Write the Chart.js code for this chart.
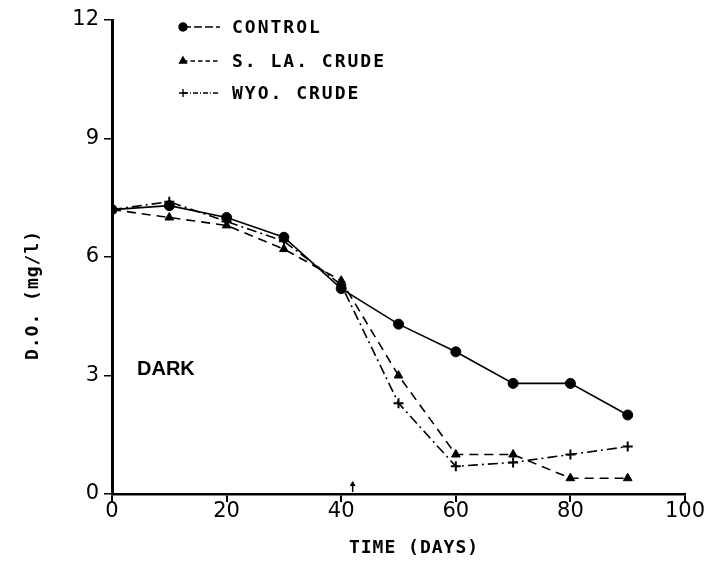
<!DOCTYPE html>
<html lang="en">
<head>
    <meta charset="UTF-8">
    <title>D.O. vs Time (Dark)</title>
    <script src="https://cdn.jsdelivr.net/npm/chart.js"></script>
    <style>
        html, body { margin: 0; padding: 0; background: #fff; }
        #wrap { width: 713px; height: 565px; }
    </style>
</head>
<body>
    <div id="wrap"><canvas id="doChart" width="713" height="565"></canvas></div>
    <script>
        // values
        const days = [0, 10, 20, 30, 40, 50, 60, 70, 80, 90];
        const control = [7.2, 7.3, 7.0, 6.5, 5.2, 4.3, 3.6, 2.8, 2.8, 2.0];
        const sLaCrude = [7.2, 7.0, 6.8, 6.2, 5.4, 3.0, 1.0, 1.0, 0.4, 0.4];
        const wyoCrude = [7.2, 7.4, 6.9, 6.4, 5.3, 2.3, 0.7, 0.8, 1.0, 1.2];
        const seriesNames = ['CONTROL', 'S. LA. CRUDE', 'WYO. CRUDE'];
        const xTicks = [0, 20, 40, 60, 80, 100];
        const yTicks = [0, 3, 6, 9, 12];
        const arrowDay = 42;
        const xTitle = 'TIME (DAYS)';
        const yTitle = 'D.O. (mg/l)';
        const noteText = 'DARK';

        const pts = vals => days.map((d, i) => ({ x: d, y: vals[i] }));

        const styles = [
            { dash: [], point: 'circle', radius: 5 },
            { dash: [9, 6], point: 'triangle', radius: 5 },
            { dash: [10, 4, 2, 4], point: 'cross', radius: 5 }
        ];

        const datasets = [control, sLaCrude, wyoCrude].map((vals, i) => ({
            label: seriesNames[i],
            data: pts(vals),
            borderColor: '#000',
            backgroundColor: '#000',
            borderWidth: 1.6,
            borderDash: styles[i].dash,
            pointStyle: styles[i].point,
            pointRadius: styles[i].radius,
            pointBorderWidth: i === 2 ? 2 : 1,
            tension: 0
        }));

        const extras = {
            id: 'extras',
            afterDraw(chart) {
                const ctx = chart.ctx;
                const xs = chart.scales.x, ys = chart.scales.y;
                ctx.save();
                ctx.fillStyle = '#000';
                ctx.strokeStyle = '#000';

                // legend
                ctx.font = 'bold 18px "DejaVu Sans Mono"';
                ctx.letterSpacing = '2px';
                ctx.textBaseline = 'middle';
                const ly = [27, 61, 93];
                datasets.forEach((ds, i) => {
                    ctx.lineWidth = 1.4;
                    ctx.setLineDash(i === 0 ? [8, 3] : styles[i].dash.map(v => v * 0.5));
                    ctx.beginPath();
                    ctx.moveTo(183, ly[i]);
                    ctx.lineTo(220, ly[i]);
                    ctx.stroke();
                    ctx.setLineDash([]);
                    Chart.helpers.drawPoint(ctx, {
                        pointStyle: styles[i].point,
                        radius: 4,
                        borderWidth: i === 2 ? 2 : 1,
                        rotation: 0
                    }, 183, ly[i]);
                    if (i !== 2) ctx.fill();
                    ctx.fillText(ds.label, 232, ly[i] + 1);
                });

                // axis titles
                ctx.font = '600 18px "DejaVu Sans Mono"';
                ctx.letterSpacing = '1px';
                ctx.textAlign = 'center';
                ctx.fillText(xTitle, 414, 548);
                ctx.save();
                ctx.translate(33, 295);
                ctx.rotate(-Math.PI / 2);
                ctx.fillText(yTitle, 0, 0);
                ctx.restore();

                // note
                ctx.letterSpacing = '0px';
                ctx.font = 'bold 20px "Liberation Sans"';
                ctx.textAlign = 'left';
                ctx.fillText(noteText, 137, 369);

                // small arrow on the time axis
                const ax = xs.getPixelForValue(arrowDay);
                const ay = ys.getPixelForValue(0);
                ctx.lineWidth = 1.5;
                ctx.beginPath();
                ctx.moveTo(ax, ay - 2);
                ctx.lineTo(ax, ay - 12);
                ctx.stroke();
                ctx.beginPath();
                ctx.moveTo(ax - 3, ay - 8);
                ctx.lineTo(ax, ay - 13);
                ctx.lineTo(ax + 3, ay - 8);
                ctx.fill();
                ctx.restore();
            }
        };

        new Chart(document.getElementById('doChart'), {
            type: 'line',
            data: { datasets },
            options: {
                responsive: false,
                animation: false,
                layout: { padding: { top: 20, right: 28, left: 0, bottom: 0 } },
                plugins: { legend: { display: false }, tooltip: { enabled: false } },
                scales: {
                    x: {
                        type: 'linear',
                        min: 0, max: 100,
                        afterBuildTicks: s => { s.ticks = xTicks.map(v => ({ value: v })); },
                        afterFit: s => { s.height = 71; },
                        border: { color: '#000', width: 2.5 },
                        grid: { drawOnChartArea: false, color: '#000', tickLength: 8, lineWidth: 2 },
                        ticks: { color: '#000', padding: -3, font: { family: 'DejaVu Sans', size: 21 } }
                    },
                    y: {
                        min: 0, max: 12,
                        afterBuildTicks: s => { s.ticks = yTicks.map(v => ({ value: v })); },
                        afterFit: s => { s.width = 112; },
                        border: { color: '#000', width: 3 },
                        grid: { drawOnChartArea: false, color: '#000', tickLength: 8, lineWidth: 1.5 },
                        ticks: { color: '#000', padding: 5, font: { family: 'DejaVu Sans', size: 21 } }
                    }
                }
            },
            plugins: [extras]
        });
    </script>
</body>
</html>
